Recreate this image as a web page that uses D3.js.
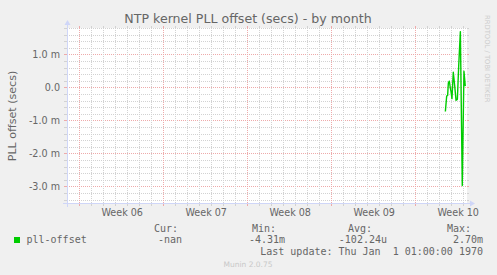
<!DOCTYPE html>
<html>
<head>
<meta charset="utf-8">
<script src="https://cdn.jsdelivr.net/npm/d3@7"></script>
<style>
  body { margin: 0; background: #f0f0f0; }
  svg { display: block; }
</style>
</head>
<body>
<div id="chart"></div>
<script>
// days since Monday of week 06, offset values in milliseconds (m)
var days = [30.53, 30.64, 30.72, 30.78, 30.86, 30.94, 31.0, 31.08, 31.19, 31.31, 31.42, 31.53, 31.64, 31.78, 31.94, 32.08, 32.19]
var offset = [-0.73, -0.26, -0.24, 0.14, 0.19, -0.01, -0.12, -0.34, 0.46, 0.04, -0.39, -0.36, 0.64, 1.69, -2.97, 0.49, 0.04]
var weekLabels = ["Week 06", "Week 07", "Week 08", "Week 09", "Week 10"]
var weekStarts = [0, 7, 14, 21, 28]
var yTicks = [-3, -2, -1, 0, 1]
var yTickLabels = ["-3.0 m", "-2.0 m", "-1.0 m", "0.0", "1.0 m"]
var legendHead = ["Cur:", "Min:", "Avg:", "Max:"]
var legendVals = ["-nan", "-4.31m", "-102.24u", "2.70m"]

var W = 497, H = 275
var pLeft = 67, pRight = 467, pTop = 28, pBottom = 203

var svg = d3.select("#chart").append("svg")
    .attr("width", W).attr("height", H)
    .style("font-family", "DejaVu Sans, sans-serif")

svg.append("rect").attr("width", W).attr("height", H).attr("fill", "#f0f0f0")

var x = d3.scaleLinear().domain([-1, 32.333]).range([pLeft, pRight])
var y = d3.scaleLinear().domain([-3.5, 1.8]).range([pBottom, pTop])

svg.append("rect")
    .attr("x", pLeft).attr("y", pTop)
    .attr("width", pRight - pLeft).attr("height", pBottom - pTop)
    .attr("fill", "#ffffff")

var minorCol = "#d2d2d2", majorCol = "#eeaaaa"

// horizontal grid
var hMinor = d3.range(-34, 19, 2).map(function(d) { return d / 10 })
var g = svg.append("g")
hMinor.forEach(function(v) {
    var major = yTicks.indexOf(Math.round(v * 10) / 10) >= 0
    var col = major ? majorCol : minorCol
    var yy = Math.round(y(v)) + 0.5
    g.append("line").attr("x1", pLeft).attr("x2", pRight).attr("y1", yy).attr("y2", yy)
        .attr("stroke", col).attr("stroke-dasharray", "1,1")
    g.append("line").attr("x1", pLeft - 3).attr("x2", pLeft).attr("y1", yy).attr("y2", yy)
        .attr("stroke", col)
    g.append("line").attr("x1", pRight).attr("x2", pRight + 2).attr("y1", yy).attr("y2", yy)
        .attr("stroke", col)
})

// vertical grid, daily minor, weekly major
d3.range(0, 33).forEach(function(d) {
    var major = weekStarts.indexOf(d) >= 0
    var col = major ? majorCol : minorCol
    var xx = Math.round(x(d)) + 0.5
    if (xx > pRight) return
    g.append("line").attr("x1", xx).attr("x2", xx).attr("y1", pTop).attr("y2", pBottom)
        .attr("stroke", col).attr("stroke-dasharray", "1,1")
    g.append("line").attr("x1", xx).attr("x2", xx).attr("y1", pBottom).attr("y2", pBottom + 3)
        .attr("stroke", col)
    g.append("line").attr("x1", xx).attr("x2", xx).attr("y1", pTop - 2).attr("y2", pTop)
        .attr("stroke", col)
})

// axes (munin light blue) with arrows
var axisCol = "#cfd6f8"
svg.append("line").attr("x1", pLeft - 4).attr("x2", pRight + 3).attr("y1", pBottom + 0.5).attr("y2", pBottom + 0.5)
    .attr("stroke", axisCol)
svg.append("path").attr("d", "M" + (pRight + 3) + "," + (pBottom - 2.5) + "L" + (pRight + 8) + "," + (pBottom + 0.5) + "L" + (pRight + 3) + "," + (pBottom + 3.5) + "Z")
    .attr("fill", axisCol)
svg.append("line").attr("x1", pLeft + 0.5).attr("x2", pLeft + 0.5).attr("y1", pBottom + 4).attr("y2", pTop - 3)
    .attr("stroke", axisCol)
svg.append("path").attr("d", "M" + (pLeft - 2.5) + "," + (pTop - 3) + "L" + (pLeft + 0.5) + "," + (pTop - 8) + "L" + (pLeft + 3.5) + "," + (pTop - 3) + "Z")
    .attr("fill", axisCol)

// series
var line = d3.line()
    .x(function(d, i) { return x(days[i]) })
    .y(function(d) { return y(d) })
svg.append("path").datum(offset)
    .attr("d", line)
    .attr("fill", "none")
    .attr("stroke", "#00cc00")
    .attr("stroke-width", 1.4)
    .attr("stroke-linejoin", "round")

// tick labels
svg.selectAll(".ylab").data(yTicks).enter().append("text")
    .attr("x", 60).attr("y", function(d) { return y(d) + 3.5 })
    .attr("text-anchor", "end")
    .attr("font-size", "9.6px").attr("fill", "#666")
    .text(function(d, i) { return yTickLabels[i] })

svg.selectAll(".xlab").data(weekStarts).enter().append("text")
    .attr("x", function(d) { return x(d + 3.6) }).attr("y", 215.5)
    .attr("text-anchor", "middle")
    .attr("font-size", "9.6px").attr("fill", "#666")
    .text(function(d, i) { return weekLabels[i] })

// titles
svg.append("text").attr("x", 248).attr("y", 23)
    .attr("text-anchor", "middle").attr("font-size", "12.6px").attr("fill", "#666")
    .text("NTP kernel PLL offset (secs) - by month")

svg.append("text").attr("transform", "translate(16,116) rotate(-90)")
    .attr("text-anchor", "middle").attr("font-size", "11.1px").attr("fill", "#666")
    .text("PLL offset (secs)")

svg.append("text").attr("transform", "translate(485,15) rotate(90)")
    .attr("font-size", "6.8px").attr("fill", "#cccccc")
    .text("RRDTOOL / TOBI OETIKER")

// legend
var mono = "DejaVu Sans Mono, monospace"
var headX = [154, 252, 348, 447]
var valX = [182, 285, 387, 483]
svg.selectAll(".lh").data(legendHead).enter().append("text")
    .attr("x", function(d, i) { return headX[i] }).attr("y", 231.5)
    .attr("font-family", mono).attr("font-size", "10px").attr("fill", "#666")
    .text(function(d) { return d })
svg.append("rect").attr("x", 14).attr("y", 237).attr("width", 6).attr("height", 6).attr("fill", "#00cc00")
svg.append("text").attr("x", 26.5).attr("y", 243)
    .attr("font-family", mono).attr("font-size", "10px").attr("fill", "#666")
    .text("pll-offset")
svg.selectAll(".lv").data(legendVals).enter().append("text")
    .attr("x", function(d, i) { return valX[i] }).attr("y", 243)
    .attr("text-anchor", "end")
    .attr("font-family", mono).attr("font-size", "10px").attr("fill", "#666")
    .text(function(d) { return d })
svg.append("text").attr("x", 483).attr("y", 255)
    .attr("text-anchor", "end").attr("xml:space", "preserve").style("white-space", "pre")
    .attr("font-family", mono).attr("font-size", "10px").attr("fill", "#666")
    .text("Last update: Thu Jan  1 01:00:00 1970")

svg.append("text").attr("x", 248).attr("y", 267)
    .attr("text-anchor", "middle").attr("font-size", "7.5px").attr("fill", "#c8c8c8")
    .text("Munin 2.0.75")
</script>
</body>
</html>
